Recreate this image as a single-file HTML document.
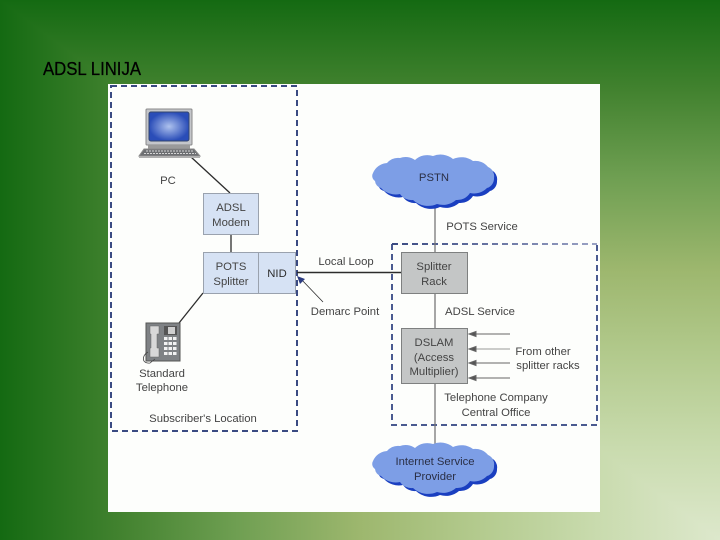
<!DOCTYPE html>
<html><head><meta charset="utf-8"><style>
html,body{margin:0;padding:0;background:#1a6b14}
#s{position:relative;width:720px;height:540px;overflow:hidden}
#s .bg{position:absolute;left:0;top:0;width:720px;height:540px}
.v{background:linear-gradient(to bottom,#146a12 0%,#42822f 16.7%,#6f9f52 33%,#9db76e 50%,#b4cb8f 67%,#c9dbae 83%,#dde8cc 100%)}
.h{background:linear-gradient(to right,#146a12 0%,#42822f 16.7%,#6f9f52 33%,#9db76e 50%,#b4cb8f 67%,#c9dbae 83%,#dde8cc 100%);clip-path:polygon(0 0,720px 540px,0 540px)}
svg{position:absolute;left:0;top:0}
text{font-family:"Liberation Sans",sans-serif;font-size:11.3px;fill:#444;text-anchor:middle}
</style></head><body><div id="s">
<div class="bg v"></div><div class="bg h"></div>
<svg width="720" height="540" viewBox="0 0 720 540">
<defs>
<radialGradient id="scr"><stop offset="0" stop-color="#aec2ee"/><stop offset="1" stop-color="#2a4db8"/></radialGradient>
<linearGradient id="top" gradientUnits="userSpaceOnUse" x1="392" y1="0" x2="597" y2="0"><stop offset="0" stop-color="#3a4a82"/><stop offset="1" stop-color="#9aa2c4"/></linearGradient>
<path id="cl" d="M373 173 A16 16 0 0 1 387 163 A15 15 0 0 1 400 158 A16 16 0 0 1 415 160 A18 18 0 0 1 433 156 A20 20 0 0 1 453 159 A20 20 0 0 1 473 161 A16 16 0 0 1 488 167 A10 10 0 0 1 494 178 A10 10 0 0 1 487 188 A18 18 0 0 1 470 193 A15 15 0 0 1 456 200 A20 20 0 0 1 437 204 A22 22 0 0 1 413 200 A14 14 0 0 1 400 194 A20 20 0 0 1 381 188 A8 8 0 0 1 375 181 A6 6 0 0 1 373 173Z"/>
</defs>
<text x="92" y="75" style="font-size:18px;fill:#000;stroke:#000;stroke-width:.25" textLength="98" lengthAdjust="spacingAndGlyphs">ADSL LINIJA</text>
<rect x="108" y="84" width="492" height="428" fill="#fdfefc"/>

<rect x="111" y="86" width="186" height="345" fill="none" stroke="#3a4a82" stroke-width="2" stroke-dasharray="6 4"/>
<path d="M392 244 V425 H597 V244" fill="none" stroke="#4a5a90" stroke-width="2" stroke-dasharray="6 4"/>
<line x1="392" y1="244" x2="597" y2="244" stroke="url(#top)" stroke-width="2" stroke-dasharray="6 4"/>

<g stroke="#2c2c2c" fill="none">
<line x1="191" y1="157" x2="230" y2="193" stroke-width="1.3"/>
<line x1="231" y1="234" x2="231" y2="252" stroke-width="1.3"/>
<line x1="203" y1="293" x2="179" y2="323" stroke-width="1.3"/>
<line x1="297" y1="272.500" x2="401" y2="272.500" stroke-width="1.4"/>
<line x1="300" y1="278" x2="323" y2="302" stroke-width=".8"/>
</g>
<polygon points="297,276 305,279 300,284" fill="#2c3c80"/>
<g stroke="#777" fill="none" stroke-width="1.3">
<line x1="435" y1="205" x2="435" y2="252"/>
<line x1="435" y1="293" x2="435" y2="328"/>
<line x1="435" y1="383" x2="435" y2="446"/>
</g>
<g stroke="#666" stroke-width="1" fill="#555">
<line x1="470" y1="334" x2="510" y2="334"/><polygon points="469,334 476,331.500 476,336.500"/>
<line x1="470" y1="349" x2="510" y2="349" stroke="#999"/><polygon points="469,349 476,346.500 476,351.500"/>
<line x1="470" y1="363" x2="510" y2="363"/><polygon points="469,363 476,360.500 476,365.500"/>
<line x1="470" y1="378" x2="510" y2="378"/><polygon points="469,378 476,375.500 476,380.500"/>
</g>

<!-- laptop -->
<rect x="146" y="109" width="46" height="36" rx="1" fill="#c4c6ca" stroke="#8a8a8a"/>
<rect x="149" y="112" width="40" height="29" rx="2" fill="url(#scr)" stroke="#34466e"/>
<rect x="148" y="145" width="42" height="4" fill="#9a9a9a"/>
<polygon points="144,149 194,149 200,156 139,156" fill="#6d6f72" stroke="#8a8a8a"/>
<rect x="139" y="156" width="61" height="2" fill="#b0b0b0"/>
<line x1="146" y1="151" x2="193" y2="151" stroke="#d5d5d5" stroke-dasharray="2 1"/>
<line x1="144" y1="153.500" x2="196" y2="153.500" stroke="#d5d5d5" stroke-dasharray="2 1"/>
<text x="168" y="184">PC</text>

<!-- phone -->
<rect x="146" y="323" width="34" height="38" fill="#7f8285" stroke="#555"/>
<path d="M150 326 H159 V334 H157 V348 H159 V357 H150 V348 H151 V334 H150Z" fill="#d8d8d8" stroke="#666" stroke-width=".5"/>
<rect x="164" y="326" width="13" height="9" fill="#555"/>
<rect x="168" y="327" width="7" height="7" fill="#cfcfcf"/>
<g fill="#f2f2f2">
<rect x="164" y="337" width="3.500" height="3"/><rect x="168.500" y="337" width="3.500" height="3"/><rect x="173" y="337" width="3.500" height="3"/>
<rect x="164" y="342" width="3.500" height="3"/><rect x="168.500" y="342" width="3.500" height="3"/><rect x="173" y="342" width="3.500" height="3"/>
<rect x="164" y="347" width="3.500" height="3"/><rect x="168.500" y="347" width="3.500" height="3"/><rect x="173" y="347" width="3.500" height="3"/>
<rect x="164" y="352" width="3.500" height="3"/><rect x="168.500" y="352" width="3.500" height="3"/><rect x="173" y="352" width="3.500" height="3"/>
</g>
<path d="M148 352 C141 356 142 364 150 363 L155 359" fill="none" stroke="#444" stroke-width=".8"/>
<text x="162" y="377">Standard</text>
<text x="162" y="391">Telephone</text>
<text x="203" y="422">Subscriber's Location</text>

<!-- left boxes -->
<g fill="#d6e2f4" stroke="#9aa2ae" stroke-width="1">
<rect x="203.500" y="193.500" width="55" height="41"/>
<rect x="203.500" y="252.500" width="55" height="41"/>
<rect x="258.500" y="252.500" width="37" height="41"/>
</g>
<text x="231" y="211">ADSL</text>
<text x="231" y="226">Modem</text>
<text x="231" y="270">POTS</text>
<text x="231" y="285">Splitter</text>
<text x="277" y="277" style="fill:#2c2c2c">NID</text>

<!-- clouds -->
<use href="#cl" fill="#1a3fc0" transform="translate(3 3)"/>
<use href="#cl" fill="#7d9ee6"/>
<use href="#cl" fill="#1a3fc0" transform="translate(3 291)"/>
<use href="#cl" fill="#7d9ee6" transform="translate(0 288)"/>
<text x="434" y="181" style="fill:#2a2f45">PSTN</text>
<text x="435" y="465" style="fill:#2a2f45">Internet Service</text>
<text x="435" y="480" style="fill:#2a2f45">Provider</text>

<!-- right boxes -->
<g fill="#c4c6c6" stroke="#7e8080" stroke-width="1">
<rect x="401.500" y="252.500" width="66" height="41"/>
<rect x="401.500" y="328.500" width="66" height="55"/>
</g>
<text x="434" y="270">Splitter</text>
<text x="434" y="285">Rack</text>
<text x="434" y="346">DSLAM</text>
<text x="434" y="361">(Access</text>
<text x="434" y="375">Multiplier)</text>

<text x="482" y="230">POTS Service</text>
<text x="346" y="265">Local Loop</text>
<text x="345" y="315">Demarc Point</text>
<text x="480" y="315">ADSL Service</text>
<text x="543" y="355">From other</text>
<text x="548" y="369">splitter racks</text>
<text x="496" y="401">Telephone Company</text>
<text x="496" y="416">Central Office</text>
</svg>
</div></body></html>
